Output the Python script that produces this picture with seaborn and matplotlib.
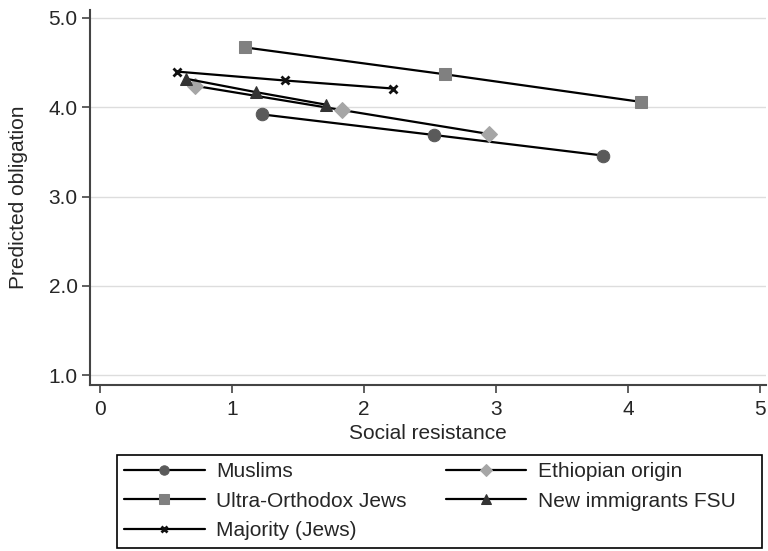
import matplotlib
matplotlib.use("Agg")
import matplotlib.pyplot as plt
from matplotlib.patches import Rectangle
import seaborn as sns
import pandas as pd

groups = ["Muslims", "Ultra-Orthodox Jews", "Majority (Jews)", "Ethiopian origin", "New immigrants FSU"]

muslims_x = [1.23, 2.53, 3.81]
muslims_y = [3.92, 3.69, 3.46]
orthodox_x = [1.10, 2.61, 4.10]
orthodox_y = [4.67, 4.37, 4.06]
majority_x = [0.58, 1.40, 2.22]
majority_y = [4.40, 4.30, 4.21]
ethiopian_x = [0.72, 1.83, 2.95]
ethiopian_y = [4.24, 3.97, 3.70]
fsu_x = [0.65, 1.18, 1.71]
fsu_y = [4.32, 4.17, 4.03]

x_ticks = [0, 1, 2, 3, 4, 5]
y_ticks = [1.0, 2.0, 3.0, 4.0, 5.0]

series = {
    "Muslims": (muslims_x, muslims_y),
    "Ultra-Orthodox Jews": (orthodox_x, orthodox_y),
    "Majority (Jews)": (majority_x, majority_y),
    "Ethiopian origin": (ethiopian_x, ethiopian_y),
    "New immigrants FSU": (fsu_x, fsu_y),
}
styles = {
    "Muslims": dict(marker="o", markersize=9, markerfacecolor="#5a5a5a", markeredgecolor="#5a5a5a"),
    "Ultra-Orthodox Jews": dict(marker="s", markersize=9, markerfacecolor="#808080", markeredgecolor="#808080"),
    "Majority (Jews)": dict(marker="x", markersize=6, markeredgewidth=2, markeredgecolor="#111111"),
    "Ethiopian origin": dict(marker="D", markersize=8, markerfacecolor="#a6a6a6", markeredgecolor="#a6a6a6"),
    "New immigrants FSU": dict(marker="^", markersize=9, markerfacecolor="#333333", markeredgecolor="#333333"),
}

sns.set_style("white")
plt.rcParams["font.family"] = ["Liberation Sans", "DejaVu Sans"]

fig = plt.figure(figsize=(7.68, 5.51), dpi=100)
ax = fig.add_axes([90 / 768, 0.301, 676 / 768, 0.681])

for g in groups:
    xs, ys = series[g]
    df = pd.DataFrame({"x": xs, "y": ys})
    sns.lineplot(data=df, x="x", y="y", ax=ax, color="black", linewidth=1.6,
                 label=g, **styles[g])

ax.set_xlim(-0.076, 5.045)
ax.set_ylim(0.89, 5.09)
ax.set_xticks(x_ticks)
ax.set_yticks(y_ticks)
ax.set_yticklabels([f"{v:.1f}" for v in y_ticks])
ax.yaxis.grid(True, color="#dddddd", linewidth=1)
ax.xaxis.grid(False)
for s in ["top", "right"]:
    ax.spines[s].set_visible(False)
for s in ["left", "bottom"]:
    ax.spines[s].set_color("#444444")
    ax.spines[s].set_linewidth(1.5)
ax.tick_params(axis="both", direction="out", length=6, width=1.2, color="#444444",
               labelsize=15, left=True, bottom=True, pad=3)
ax.tick_params(axis="x", pad=5)
ax.set_xlabel("Social resistance", fontsize=15, labelpad=3)
ax.set_ylabel("Predicted obligation", fontsize=15, labelpad=15)

handles, labels = ax.get_legend_handles_labels()
ax.get_legend().remove()
leg = fig.legend(handles, labels, loc="upper left", ncol=2,
                 bbox_to_anchor=(117 / 768, 1 - 455 / 551),
                 fontsize=15, handlelength=3.85, frameon=False,
                 borderaxespad=0, labelspacing=0.5, handletextpad=0.55,
                 columnspacing=1.9, borderpad=0.35, markerscale=0.75)
fig.patches.append(Rectangle((117 / 768, 1 - 548 / 551), 645 / 768, 93 / 551,
                             transform=fig.transFigure, fill=False,
                             edgecolor="black", linewidth=1.2))

fig.savefig("out.png", dpi=100)
